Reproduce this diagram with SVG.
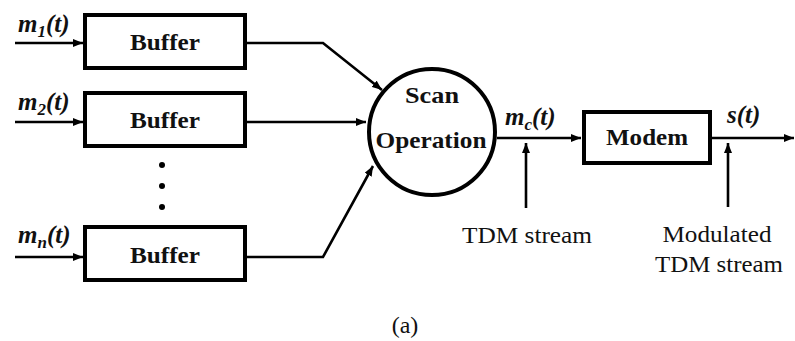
<svg xmlns="http://www.w3.org/2000/svg" width="795" height="341" viewBox="0 0 795 341">
  <defs>
    <marker id="arrow" viewBox="0 0 10 8" refX="10" refY="4" markerWidth="10" markerHeight="8" markerUnits="userSpaceOnUse" orient="auto">
      <path d="M0,0 L10,4 L0,8 z" fill="#000"/>
    </marker>
    <style>
      .box { fill: #fff; stroke: #000; stroke-width: 4; }
      .wire { fill: none; stroke: #000; stroke-width: 2.6; }
      .arr { marker-end: url(#arrow); }
      text { font-family: "Liberation Serif", "Times New Roman", serif; fill: #111; }
      .bold { font-weight: bold; font-size: 23px; }
      .sig { font-weight: bold; font-style: italic; font-size: 25px; }
      .sub { font-size: 17px; }
      .plain { font-size: 24px; }
    </style>
  </defs>
  <rect width="795" height="341" fill="#fff"/>

  <!-- input buffers -->
  <g id="buffer1">
    <rect class="box" x="85" y="15" width="160" height="53"/>
    <text class="bold" x="165" y="50" text-anchor="middle" textLength="70" lengthAdjust="spacingAndGlyphs">Buffer</text>
  </g>
  <g id="buffer2">
    <rect class="box" x="85" y="93" width="160" height="53"/>
    <text class="bold" x="165" y="128" text-anchor="middle" textLength="70" lengthAdjust="spacingAndGlyphs">Buffer</text>
  </g>
  <g id="buffer-dots">
    <circle cx="162" cy="165" r="3" fill="#000"/>
    <circle cx="162" cy="186" r="3" fill="#000"/>
    <circle cx="162" cy="207" r="3" fill="#000"/>
  </g>
  <g id="buffern">
    <rect class="box" x="85" y="227" width="160" height="53"/>
    <text class="bold" x="165" y="263" text-anchor="middle" textLength="70" lengthAdjust="spacingAndGlyphs">Buffer</text>
  </g>

  <!-- scanner -->
  <g id="scan">
    <circle class="box" cx="432" cy="132" r="63"/>
    <text class="bold" x="432" y="103" text-anchor="middle" textLength="54" lengthAdjust="spacingAndGlyphs">Scan</text>
    <text class="bold" x="431" y="148" text-anchor="middle" textLength="111" lengthAdjust="spacingAndGlyphs">Operation</text>
  </g>

  <!-- modulator -->
  <g id="modem">
    <rect class="box" x="584" y="112" width="126" height="51"/>
    <text class="bold" x="647" y="145" text-anchor="middle" textLength="82" lengthAdjust="spacingAndGlyphs">Modem</text>
  </g>

  <!-- signal names and stream notes -->
  <g id="labels">
    <text class="sig" x="18" y="32">m<tspan class="sub" dy="5">1</tspan><tspan dy="-5">(t)</tspan></text>
    <text class="sig" x="18" y="110">m<tspan class="sub" dy="5">2</tspan><tspan dy="-5">(t)</tspan></text>
    <text class="sig" x="18" y="243">m<tspan class="sub" dy="5">n</tspan><tspan dy="-5">(t)</tspan></text>
    <text class="sig" x="505" y="125">m<tspan class="sub" dy="5">c</tspan><tspan dy="-5">(t)</tspan></text>
    <text class="sig" x="727" y="123">s(t)</text>
    <text class="plain" x="527" y="243" text-anchor="middle" textLength="130" lengthAdjust="spacingAndGlyphs">TDM stream</text>
    <text class="plain" x="717" y="242" text-anchor="middle" textLength="109" lengthAdjust="spacingAndGlyphs">Modulated</text>
    <text class="plain" x="719" y="272" text-anchor="middle" textLength="128" lengthAdjust="spacingAndGlyphs">TDM stream</text>
    <text class="plain" x="405" y="333" text-anchor="middle" font-size="22">(a)</text>
  </g>

  <!-- connectors -->
  <g id="connectors">
    <line class="wire arr" x1="15" y1="43" x2="83" y2="43"/>
    <line class="wire arr" x1="15" y1="122" x2="83" y2="122"/>
    <line class="wire arr" x1="15" y1="257" x2="83" y2="257"/>
    <polyline class="wire arr" points="247,43 323,43 382,90"/>
    <line class="wire arr" x1="247" y1="122" x2="366" y2="122"/>
    <polyline class="wire arr" points="247,257 323,257 373,166"/>
    <line class="wire arr" x1="497" y1="138" x2="581" y2="138"/>
    <line class="wire arr" x1="712" y1="138" x2="794" y2="138"/>
    <line class="wire arr" x1="526" y1="208" x2="526" y2="143"/>
    <line class="wire arr" x1="728" y1="207" x2="728" y2="143"/>
  </g>
</svg>
